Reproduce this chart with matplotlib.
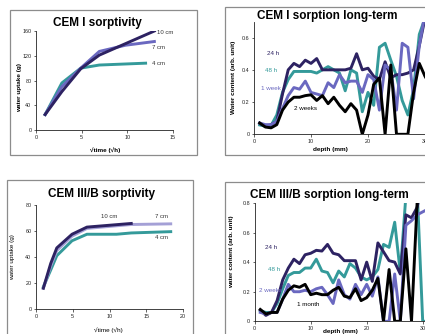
import matplotlib
matplotlib.use('Agg')
import matplotlib.pyplot as plt
from matplotlib.patches import Rectangle
from matplotlib.ticker import FuncFormatter

plt.rcParams['font.family'] = ['Liberation Sans', 'DejaVu Sans']

# ---------------- data ----------------
# CEM I sorptivity (sqrt time in sqrt(h), water uptake in g)
cem1_t_10 = [1, 2.83, 4.9, 6.93, 12.96]
cem1_w_10 = [25, 62, 99, 121, 160]
cem1_t_7 = [1, 2.83, 4.9, 6.93, 9.8, 12.96]
cem1_w_7 = [25, 70, 100, 127, 137, 143]
cem1_t_4 = [1, 2.83, 4.9, 6.93, 12.0]
cem1_w_4 = [25, 76, 100, 105, 108]

# CEM III/B sorptivity
cem3_t_10 = [1, 2, 2.83, 4.9, 6.93, 12.96]
cem3_w_10 = [16, 35, 47, 57.5, 63, 65.8]
cem3_t_7 = [1, 2, 2.83, 4.9, 6.93, 12.96, 18.33]
cem3_w_7 = [16, 33, 45, 56, 62, 65, 65.5]
cem3_t_4 = [1, 2, 2.83, 4.9, 6.93, 10.95, 12.96, 18.33]
cem3_w_4 = [17, 30, 41, 52.5, 57.5, 57.5, 58.5, 59.5]

depth = list(range(1, 32))

# CEM I long-term water content profiles
cem1_24h = [.068, .05, .06, .08, .25, .40, .44, .42, .46, .44, .47, .40, .40, .40, .40,
            .40, .41, .50, .40, .41, .36, .34, .45, .35, .37, .37, .38, .40, .55, .72, .80]
cem1_48h = [.058, .05, .055, .12, .26, .34, .39, .39, .39, .39, .38, .40, .42, .40, .38,
            .27, .40, .38, .14, .26, .18, .54, .565, .46, .36, .21, .12, .28, .62, .72, .80]
cem1_1w = [.07, .06, .06, .08, .16, .24, .29, .28, .33, .26, .25, .24, .32, .29, .37,
           .32, .33, .33, .26, .37, .34, .15, .43, .40, .15, .565, .54, .22, .55, .75, .80]
cem1_2w = [.07, .045, .04, .06, .15, .20, .23, .23, .24, .245, .21, .24, .19, .23, .18,
           .14, .19, .15, .0, .12, .31, .35, .0, .43, .0, .0, .0, .26, .44, .36, .30]

# CEM III/B long-term water content profiles
cem3_24h = [.075, .04, .06, .14, .28, .36, .42, .39, .45, .46, .48, .475, .52, .46, .45,
            .41, .41, .41, .28, .40, .27, .53, .47, .41, .40, .32, .72, .70, .77, .95, 1.0]
cem3_48h = [.07, .06, .06, .12, .22, .31, .33, .33, .36, .36, .42, .34, .33, .26, .34,
            .30, .39, .36, .30, .28, .30, .35, .52, .50, .67, .33, .85, .90, .90, .0, .0]
cem3_2w = [.06, .05, .06, .06, .15, .25, .20, .20, .21, .20, .22, .23, .18, .12, .28,
           .18, .15, .25, .18, .25, .17, .30, .0, .0, .32, .0, .65, .68, .72, .74, .76]
cem3_1m = [.08, .05, .06, .06, .15, .21, .24, .23, .25, .18, .19, .18, .18, .21, .23,
           .17, .16, .22, .14, .16, .21, .29, .0, .35, .0, .0, .49, .0, .80, .85, .90]

# ---------------- styling ----------------
W, H = 425, 334
fig = plt.figure(figsize=(W / 100, H / 100), dpi=100)

NAVY = '#2d2262'
TEAL = '#349a9a'
SLATE = '#6a68c0'
LAV = '#a4a0d6'
BLACK = '#000000'
GRAY = '#8c8c8c'
LW = 2.1
TICKFS = 3.9
TITLEFS = 8.5
LABFS = 4.6


def pos(x0, y0, x1, y1):
    return [x0 / W, 1 - y1 / H, (x1 - x0) / W, (y1 - y0) / H]


def fx(x):
    return x / W


def fy(y):
    return 1 - y / H


def box(x0, y0, x1, y1):
    fig.add_artist(Rectangle((fx(x0), fy(y1)), fx(x1) - fx(x0), fy(y0) - fy(y1),
                             transform=fig.transFigure, fill=False,
                             edgecolor=GRAY, linewidth=0.9))


def style(ax):
    for s in ['top', 'right']:
        ax.spines[s].set_visible(False)
    for s in ['left', 'bottom']:
        ax.spines[s].set_linewidth(0.6)
        ax.spines[s].set_color('#222222')
    ax.tick_params(direction='out', length=1.8, width=0.5, labelsize=TICKFS,
                   pad=1.5, colors='#222222')
    ax.patch.set_alpha(0)


# panel frames
box(10, 10, 197, 155)
box(225, 7, 445, 155)
box(7, 180, 193, 345)
box(225, 182, 445, 345)

# ---- top-left: CEM I sorptivity ----
ax1 = fig.add_axes(pos(36, 31, 173, 130))
style(ax1)
ax1.plot(cem1_t_4, cem1_w_4, color=TEAL, lw=LW)
ax1.plot(cem1_t_7, cem1_w_7, color=SLATE, lw=LW)
ax1.plot(cem1_t_10, cem1_w_10, color=NAVY, lw=LW)
ax1.set_xlim(0, 15)
ax1.set_ylim(0, 160)
ax1.set_xticks([0, 5, 10, 15])
ax1.set_yticks([0, 40, 80, 120, 160])
ax1.text(13.3, 158, '10 cm', fontsize=4.3, va='center', color='#333333')
ax1.text(12.7, 134, '7 cm', fontsize=4.3, va='center', color='#333333')
ax1.text(12.7, 107, '4 cm', fontsize=4.3, va='center', color='#333333')
fig.text(fx(97), fy(23), 'CEM I sorptivity', fontsize=TITLEFS, fontweight='bold',
         ha='center', va='center')
fig.text(fx(105), fy(150), '√time (√h)', fontsize=LABFS, fontweight='bold',
         ha='center', va='center')
fig.text(fx(20), fy(87), 'water uptake (g)', fontsize=LABFS, fontweight='bold',
         ha='center', va='center', rotation=90)

# ---- top-right: CEM I sorption long-term ----
ax2 = fig.add_axes(pos(254, 21.5, 254 + 35 * 5.7, 134.3))
style(ax2)
ax2.plot(depth, cem1_48h, color=TEAL, lw=LW)
ax2.plot(depth, cem1_24h, color=NAVY, lw=LW)
ax2.plot(depth, cem1_1w, color=SLATE, lw=LW)
ax2.plot(depth, cem1_2w, color=BLACK, lw=LW)
ax2.set_xlim(0, 35)
ax2.set_ylim(0, 0.7)
ax2.set_xticks([0, 10, 20, 30])
ax2.set_yticks([0, 0.2, 0.4, 0.6])
ax2.yaxis.set_major_formatter(FuncFormatter(lambda v, p: '0' if v == 0 else f'{v:.1f}'))
ax2.text(2.2, 0.50, '24 h', fontsize=4.5, color=NAVY, va='center')
ax2.text(1.9, 0.395, '48 h', fontsize=4.5, color=TEAL, va='center')
ax2.text(1.3, 0.285, '1 week', fontsize=4.5, color=SLATE, va='center')
ax2.text(7.0, 0.16, '2 weeks', fontsize=4.5, color=BLACK, va='center')
fig.text(fx(327), fy(16), 'CEM I sorption long-term', fontsize=TITLEFS,
         fontweight='bold', ha='center', va='center')
fig.text(fx(330), fy(150), 'depth (mm)', fontsize=LABFS, fontweight='bold',
         ha='center', va='center')
fig.text(fx(234), fy(77), 'Water content (arb. unit)', fontsize=LABFS,
         fontweight='bold', ha='center', va='center', rotation=90)

# ---- bottom-left: CEM III/B sorptivity ----
ax3 = fig.add_axes(pos(36, 205, 183, 309))
style(ax3)
ax3.plot(cem3_t_4, cem3_w_4, color=TEAL, lw=LW)
ax3.plot(cem3_t_7, cem3_w_7, color=LAV, lw=LW)
ax3.plot(cem3_t_10, cem3_w_10, color=NAVY, lw=LW)
ax3.set_xlim(0, 20)
ax3.set_ylim(0, 80)
ax3.set_xticks([0, 5, 10, 15, 20])
ax3.set_yticks([0, 20, 40, 60, 80])
ax3.text(8.9, 71.5, '10 cm', fontsize=4.3, va='center', ha='left', color='#333333')
ax3.text(16.2, 71, '7 cm', fontsize=4.3, va='center', ha='left', color='#333333')
ax3.text(16.2, 54.7, '4 cm', fontsize=4.3, va='center', ha='left', color='#333333')
fig.text(fx(102), fy(194), 'CEM III/B sorptivity', fontsize=TITLEFS,
         fontweight='bold', ha='center', va='center')
fig.text(fx(108), fy(330), '√time (√h)', fontsize=LABFS, ha='center', va='center')
fig.text(fx(13), fy(257), 'water uptake (g)', fontsize=LABFS, ha='center',
         va='center', rotation=90)

# ---- bottom-right: CEM III/B sorption long-term ----
ax4 = fig.add_axes(pos(254.7, 203, 254.7 + 35 * 5.6, 321.3))
style(ax4)
ax4.plot(depth, cem3_48h, color=TEAL, lw=LW)
ax4.plot(depth, cem3_24h, color=NAVY, lw=LW)
ax4.plot(depth, cem3_2w, color=SLATE, lw=LW)
ax4.plot(depth, cem3_1m, color=BLACK, lw=LW)
ax4.set_xlim(0, 35)
ax4.set_ylim(0, 0.8)
ax4.set_xticks([0, 10, 20, 30])
ax4.set_yticks([0, 0.2, 0.4, 0.6, 0.8])
ax4.yaxis.set_major_formatter(FuncFormatter(lambda v, p: '0' if v == 0 else f'{v:.1f}'))
ax4.text(1.9, 0.50, '24 h', fontsize=4.5, color=NAVY, va='center')
ax4.text(2.4, 0.35, '48 h', fontsize=4.5, color=TEAL, va='center')
ax4.text(0.7, 0.21, '2 weeks', fontsize=4.5, color=SLATE, va='center')
ax4.text(7.6, 0.115, '1 month', fontsize=4.5, color=BLACK, va='center')
fig.text(fx(329), fy(195), 'CEM III/B sorption long-term', fontsize=TITLEFS,
         fontweight='bold', ha='center', va='center')
fig.text(fx(340), fy(331), 'depth (mm)', fontsize=LABFS, fontweight='bold',
         ha='center', va='center')
fig.text(fx(232), fy(252), 'water content (arb. unit)', fontsize=LABFS,
         fontweight='bold', ha='center', va='center', rotation=90)

fig.savefig('out.png', dpi=100)
